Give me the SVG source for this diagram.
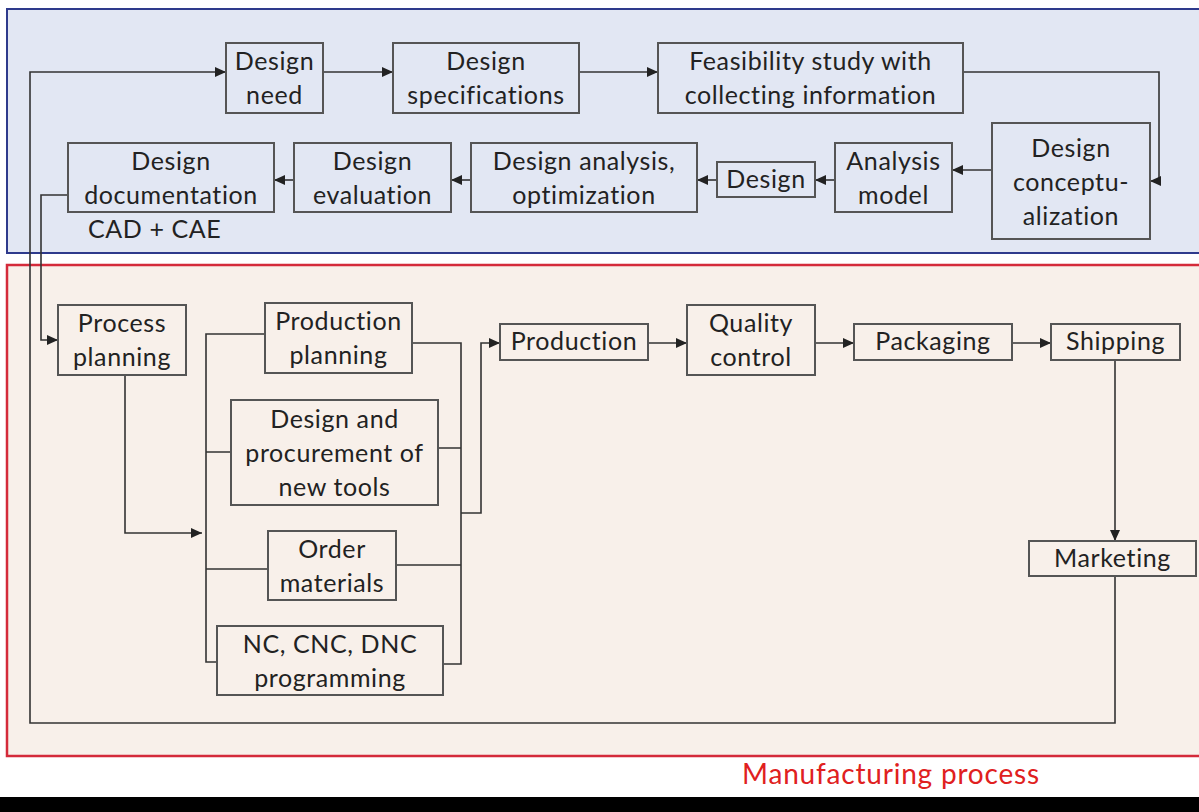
<svg xmlns="http://www.w3.org/2000/svg" width="1199" height="812" viewBox="0 0 1199 812">
<style>
.box{fill:none;stroke:#555;stroke-width:2}
.t{font-family:Lato,"Open Sans",sans-serif;font-size:25px;letter-spacing:0.6px;font-variant-ligatures:none;fill:#222;text-anchor:middle}
.c{fill:none;stroke:#333;stroke-width:1.6}
</style>
<defs>
<marker id="ah" markerUnits="userSpaceOnUse" markerWidth="12" markerHeight="10" refX="11" refY="5" orient="auto">
<path d="M0,0 L11,5 L0,10 z" fill="#222"/>
</marker>
</defs>
<rect x="0" y="0" width="1199" height="812" fill="#fff"/>
<rect id="design-panel" x="7" y="9" width="1200" height="244" fill="#e2e7f3" stroke="#2e3a8c" stroke-width="2"/>
<rect id="manufacturing-panel" x="7" y="265" width="1200" height="491" fill="#f8f0ea" stroke="#d42a3a" stroke-width="2.5"/>
<rect x="0" y="797" width="1199" height="15" fill="#000"/>
<text x="891" y="784" font-family="Lato,'Open Sans',sans-serif" font-size="28" letter-spacing="0.8" fill="#e02020" text-anchor="middle" style="font-variant-ligatures:none">Manufacturing process</text>

<g id="connectors">
<path class="c" d="M1115,576 V723 H30 V72 H226" marker-end="url(#ah)"/>
<path class="c" d="M323,72 H393" marker-end="url(#ah)"/>
<path class="c" d="M579,72 H658" marker-end="url(#ah)"/>
<path class="c" d="M963,72 H1159 V181 H1150" marker-end="url(#ah)"/>
<path class="c" d="M992,170 H952" marker-end="url(#ah)"/>
<path class="c" d="M835,180 H815" marker-end="url(#ah)"/>
<path class="c" d="M717,180 H697" marker-end="url(#ah)"/>
<path class="c" d="M471,180 H451" marker-end="url(#ah)"/>
<path class="c" d="M294,180 H274" marker-end="url(#ah)"/>
<path class="c" d="M68,195 H41 V340 H58" marker-end="url(#ah)"/>
<path class="c" d="M125,375 V533 H202" marker-end="url(#ah)"/>
<path class="c" d="M265,334 H206 V662 H217 M206,452 H231 M206,569 H268"/>
<path class="c" d="M412,343 H461 V664 H443 M438,448 H461 M396,565 H461"/>
<path class="c" d="M461,513 H481 V343 H500" marker-end="url(#ah)"/>
<path class="c" d="M648,343 H687" marker-end="url(#ah)"/>
<path class="c" d="M815,343 H854" marker-end="url(#ah)"/>
<path class="c" d="M1012,343 H1051" marker-end="url(#ah)"/>
<path class="c" d="M1115,360 V541" marker-end="url(#ah)"/>
</g>

<g id="design-need"><rect class="box" x="226" y="43" width="97" height="70"/><text class="t" x="274.5" y="70">Design<tspan x="274.5" dy="34">need</tspan></text></g>
<g id="design-specifications"><rect class="box" x="393" y="43" width="186" height="70"/><text class="t" x="486" y="70">Design<tspan x="486" dy="34">specifications</tspan></text></g>
<g id="feasibility-study"><rect class="box" x="658" y="43" width="305" height="70"/><text class="t" x="810.5" y="70">Feasibility study with<tspan x="810.5" dy="34">collecting information</tspan></text></g>
<g id="design-conceptualization"><rect class="box" x="992" y="123" width="158" height="116"/><text class="t" x="1071" y="157">Design<tspan x="1071" dy="34">conceptu-</tspan><tspan x="1071" dy="34">alization</tspan></text></g>
<g id="analysis-model"><rect class="box" x="835" y="143" width="117" height="69"/><text class="t" x="893.5" y="170">Analysis<tspan x="893.5" dy="34">model</tspan></text></g>
<g id="design"><rect class="box" x="717" y="162" width="98" height="35"/><text class="t" x="766" y="188">Design</text></g>
<g id="design-analysis"><rect class="box" x="471" y="143" width="226" height="69"/><text class="t" x="584" y="170">Design analysis,<tspan x="584" dy="34">optimization</tspan></text></g>
<g id="design-evaluation"><rect class="box" x="294" y="143" width="157" height="69"/><text class="t" x="372.5" y="170">Design<tspan x="372.5" dy="34">evaluation</tspan></text></g>
<g id="design-documentation"><rect class="box" x="68" y="143" width="206" height="69"/><text class="t" x="171" y="170">Design<tspan x="171" dy="34">documentation</tspan></text><text class="t" x="88" y="238" style="text-anchor:start">CAD + CAE</text></g>

<g id="process-planning"><rect class="box" x="58" y="305" width="128" height="70"/><text class="t" x="122" y="332">Process<tspan x="122" dy="34">planning</tspan></text></g>
<g id="production-planning"><rect class="box" x="265" y="303" width="147" height="70"/><text class="t" x="338.5" y="330">Production<tspan x="338.5" dy="34">planning</tspan></text></g>
<g id="tools"><rect class="box" x="231" y="400" width="207" height="105"/><text class="t" x="334.5" y="428">Design and<tspan x="334.5" dy="34">procurement of</tspan><tspan x="334.5" dy="34">new tools</tspan></text></g>
<g id="order-materials"><rect class="box" x="268" y="531" width="128" height="69"/><text class="t" x="332" y="558">Order<tspan x="332" dy="34">materials</tspan></text></g>
<g id="nc-programming"><rect class="box" x="217" y="626" width="226" height="69"/><text class="t" x="330" y="653">NC, CNC, DNC<tspan x="330" dy="34">programming</tspan></text></g>
<g id="production"><rect class="box" x="500" y="324" width="148" height="36"/><text class="t" x="574" y="350">Production</text></g>
<g id="quality-control"><rect class="box" x="687" y="305" width="128" height="70"/><text class="t" x="751" y="332">Quality<tspan x="751" dy="34">control</tspan></text></g>
<g id="packaging"><rect class="box" x="854" y="324" width="158" height="36"/><text class="t" x="933" y="350">Packaging</text></g>
<g id="shipping"><rect class="box" x="1051" y="324" width="129" height="36"/><text class="t" x="1115.5" y="350">Shipping</text></g>
<g id="marketing"><rect class="box" x="1029" y="541" width="167" height="35"/><text class="t" x="1112.5" y="567">Marketing</text></g>
</svg>
